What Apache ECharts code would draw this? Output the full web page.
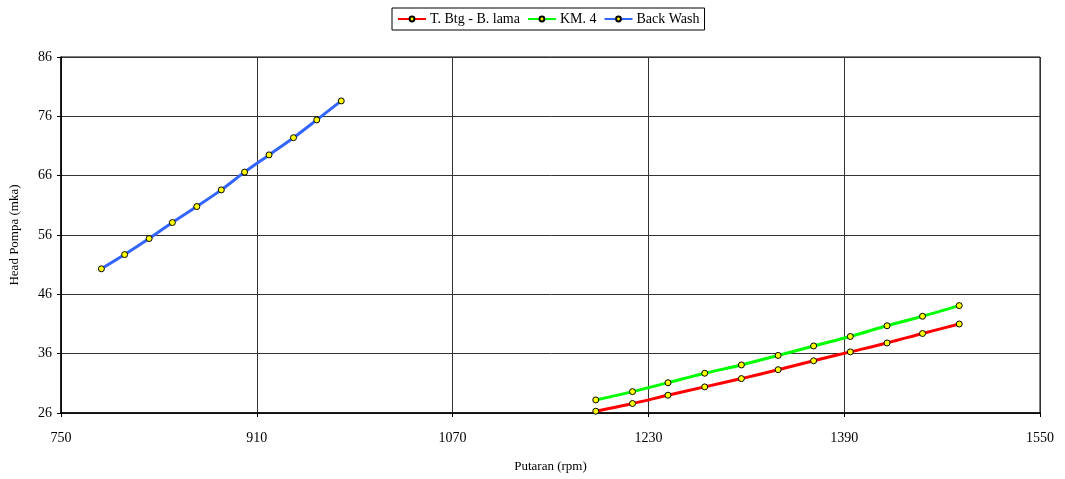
<!DOCTYPE html>
<html>
<head>
<meta charset="utf-8">
<script src="https://cdn.jsdelivr.net/npm/echarts@6/dist/echarts.min.js"></script>
<style>
  html, body { margin: 0; padding: 0; background: #fff; }
  #chart { width: 1065px; height: 479px; }
</style>
</head>
<body>
<div id="chart"></div>
<script>
// putaran (rpm) dan head (mka) tiap pompa
const rpmBtg = [1187, 1217, 1246, 1276, 1306, 1336, 1365, 1395, 1425, 1454, 1484];
const headBtg = [26.3, 27.6, 29.0, 30.4, 31.8, 33.3, 34.8, 36.3, 37.8, 39.4, 41.0];

const rpmKm4 = [1187, 1217, 1246, 1276, 1306, 1336, 1365, 1395, 1425, 1454, 1484];
const headKm4 = [28.2, 29.6, 31.1, 32.7, 34.1, 35.7, 37.3, 38.9, 40.7, 42.3, 44.1];

const rpmBw = [783, 802, 822, 841, 861, 881, 900, 920, 940, 959, 979];
const headBw = [50.3, 52.7, 55.4, 58.1, 60.8, 63.6, 66.6, 69.5, 72.4, 75.4, 78.6];

const seriesNames = ['T. Btg - B. lama', 'KM. 4', 'Back Wash'];
const seriesColors = ['#ff0000', '#00ff00', '#3366ff'];

function pairs(xs, ys) {
  let out = [];
  for (let i = 0; i < xs.length; i++) {
    out.push([xs[i], ys[i]]);
  }
  return out;
}

const font = '"Liberation Serif", "Times New Roman", serif';
const allData = [pairs(rpmBtg, headBtg), pairs(rpmKm4, headKm4), pairs(rpmBw, headBw)];

const chart = echarts.init(document.getElementById('chart'));
const option = {
  animation: false,
  textStyle: { fontFamily: font, color: '#000' },
  legend: {
    top: 8,
    left: 392,
    padding: [4, 5, 4, 5],
    borderColor: '#000',
    borderWidth: 1,
    itemWidth: 28,
    itemHeight: 6,
    itemGap: 7,
    textStyle: { fontFamily: font, fontSize: 14, color: '#000', padding: [0, 0, 0, -1] },
    data: seriesNames
  },
  grid: { left: 60, right: 25, top: 57, bottom: 66, show: true, borderColor: '#000', borderWidth: 1 },
  xAxis: {
    type: 'value',
    min: 750,
    max: 1550,
    interval: 160,
    name: 'Putaran (rpm)',
    nameLocation: 'middle',
    nameGap: 47,
    nameTextStyle: { fontFamily: font, fontSize: 13, color: '#000' },
    axisLine: { lineStyle: { color: '#000', width: 1.5 } },
    axisTick: { show: true, length: 4, lineStyle: { color: '#000' } },
    axisLabel: {
      fontFamily: font, fontSize: 14, color: '#000', margin: 18,
      formatter: function (v) { return String(v); }
    },
    splitLine: { show: true, lineStyle: { color: '#333', width: 1 } }
  },
  yAxis: {
    type: 'value',
    min: 26,
    max: 86,
    interval: 10,
    name: 'Head Pompa (mka)',
    nameLocation: 'middle',
    nameGap: 40,
    nameTextStyle: { fontFamily: font, fontSize: 13, color: '#000' },
    axisLine: { show: true, lineStyle: { color: '#000', width: 1.5 } },
    axisTick: { show: true, length: 4, lineStyle: { color: '#000' } },
    axisLabel: { fontFamily: font, fontSize: 14, color: '#000', margin: 9 },
    splitLine: { show: true, lineStyle: { color: '#333', width: 1 } }
  },
  series: seriesNames.map(function (name, i) {
    return {
      name: name,
      type: 'line',
      smooth: 0.3,
      data: allData[i],
      symbol: 'circle',
      symbolSize: 6,
      lineStyle: { color: seriesColors[i], width: 3 },
      itemStyle: { color: '#ffff00', borderColor: '#000', borderWidth: 1 },
      z: 3
    };
  })
};
chart.setOption(option);
</script>
</body>
</html>
